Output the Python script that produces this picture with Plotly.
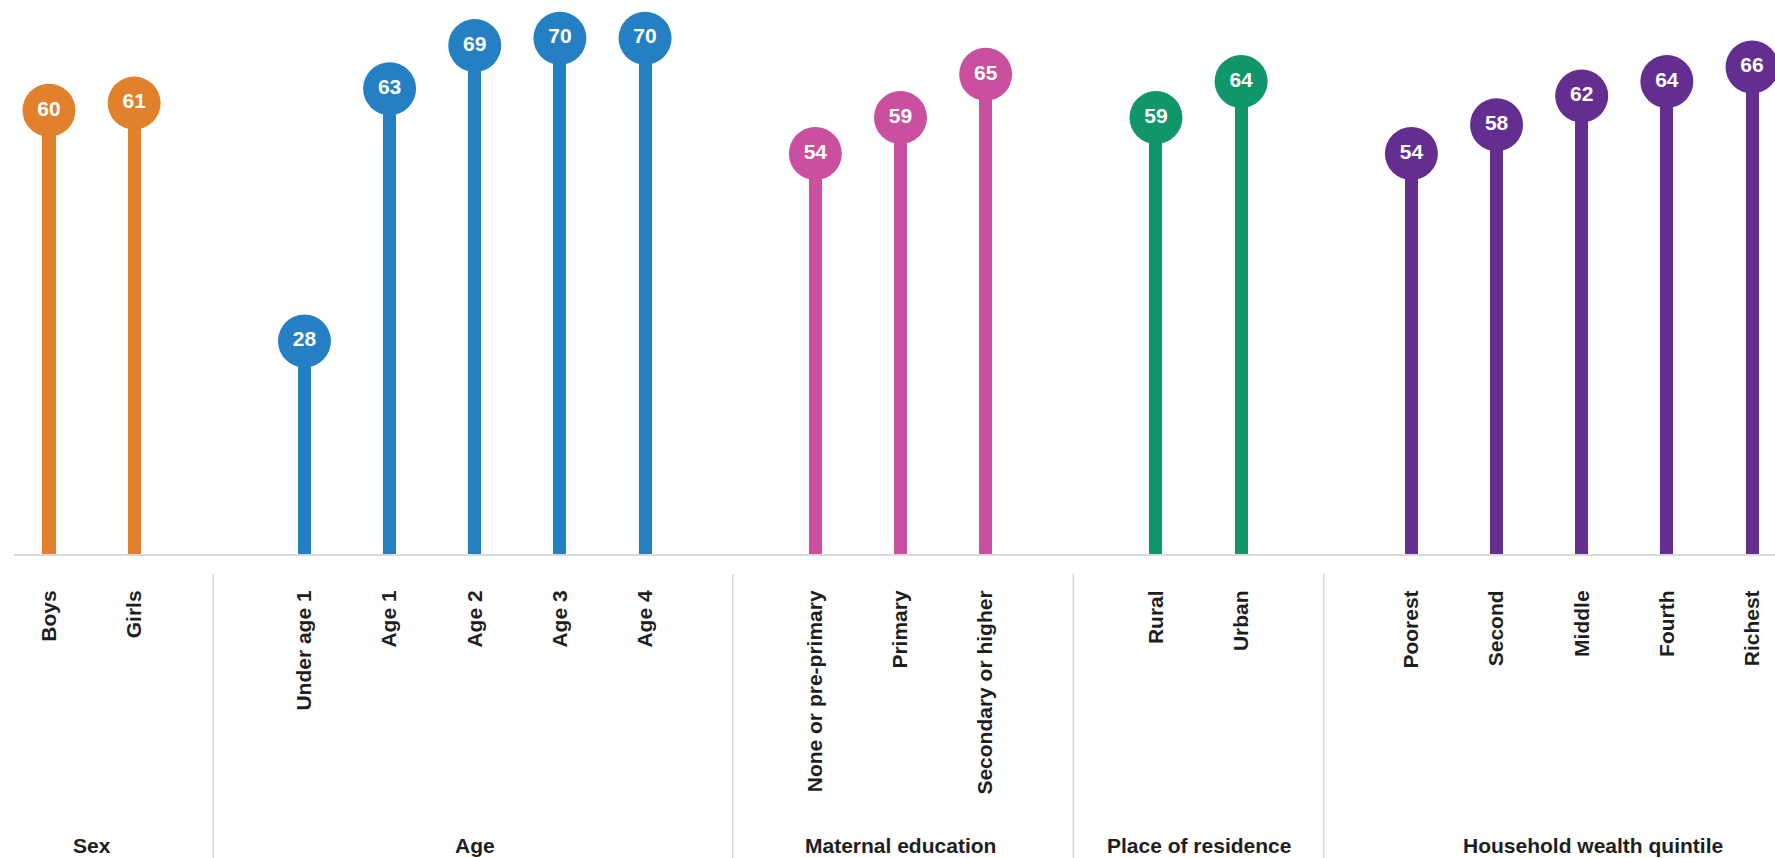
import plotly.graph_objects as go

groups = ["Sex", "Age", "Maternal education", "Place of residence", "Household wealth quintile"]
group_categories = [
    ["Boys", "Girls"],
    ["Under age 1", "Age 1", "Age 2", "Age 3", "Age 4"],
    ["None or pre-primary", "Primary", "Secondary or higher"],
    ["Rural", "Urban"],
    ["Poorest", "Second", "Middle", "Fourth", "Richest"],
]
group_values = [
    [60, 61],
    [28, 63, 69, 70, 70],
    [54, 59, 65],
    [59, 64],
    [54, 58, 62, 64, 66],
]
group_colors = ["#E1812B", "#2580C3", "#CA4F9F", "#11956A", "#642E91"]

YMIN, YMAX = -1.53, 75.3
FONT = "Liberation Sans, Arial, sans-serif"
fig = go.Figure()

pos = 0
tickvals, ticktext = [], []
group_centers = []
for g, cats, vals, col in zip(groups, group_categories, group_values, group_colors):
    xs = list(range(pos, pos + len(cats)))
    tickvals += xs
    ticktext += cats
    group_centers.append(sum(xs) / len(xs))
    fig.add_trace(go.Bar(
        x=xs, y=[v - YMIN for v in vals], base=YMIN, width=0.153,
        marker=dict(color=col, line=dict(width=0)), showlegend=False, hoverinfo="skip",
    ))
    fig.add_trace(go.Scatter(
        x=xs, y=vals, mode="markers+text", text=[str(v) for v in vals],
        textposition="middle center",
        textfont=dict(color="white", size=21, family=FONT, weight=700),
        marker=dict(size=53, color=col, line=dict(width=0)),
        showlegend=False, cliponaxis=False,
    ))
    pos += len(cats) + 1

# separators between groups (in gap slots)
sep_positions = [1.93, 8.03, 12.03, 14.97]
PLOT_H = 554
for sx in sep_positions:
    fig.add_shape(type="line", xref="x", yref="paper", x0=sx, x1=sx,
                  y0=-(574 - PLOT_H) / PLOT_H, y1=-(858 - PLOT_H) / PLOT_H,
                  line=dict(color="#D6D6D6", width=1.5))

label_x = group_centers[:]
label_x[4] = 18.13
for g, cx in zip(groups, label_x):
    fig.add_annotation(x=cx, y=-(845 - PLOT_H) / PLOT_H, xref="x", yref="paper",
                       text=g, showarrow=False, xanchor="center", yanchor="middle",
                       font=dict(size=21, color="#1E1E1E", family=FONT, weight=700))

fig.update_layout(
    width=1775, height=858,
    margin=dict(l=14, r=0, t=0, b=858 - PLOT_H),
    paper_bgcolor="white", plot_bgcolor="white",
    barmode="overlay", bargap=0,
    xaxis=dict(range=[-0.411, 20.27], tickvals=tickvals, ticktext=ticktext, tickangle=-90,
               showgrid=False, zeroline=False, showline=True, linecolor="#D9D9D9", linewidth=2,
               ticks="", ticklabelstandoff=26,
               tickfont=dict(size=21, color="#1E1E1E", family=FONT, weight=700)),
    yaxis=dict(range=[YMIN, YMAX], visible=False, showgrid=False, zeroline=False),
)

fig.write_html("out.html")
